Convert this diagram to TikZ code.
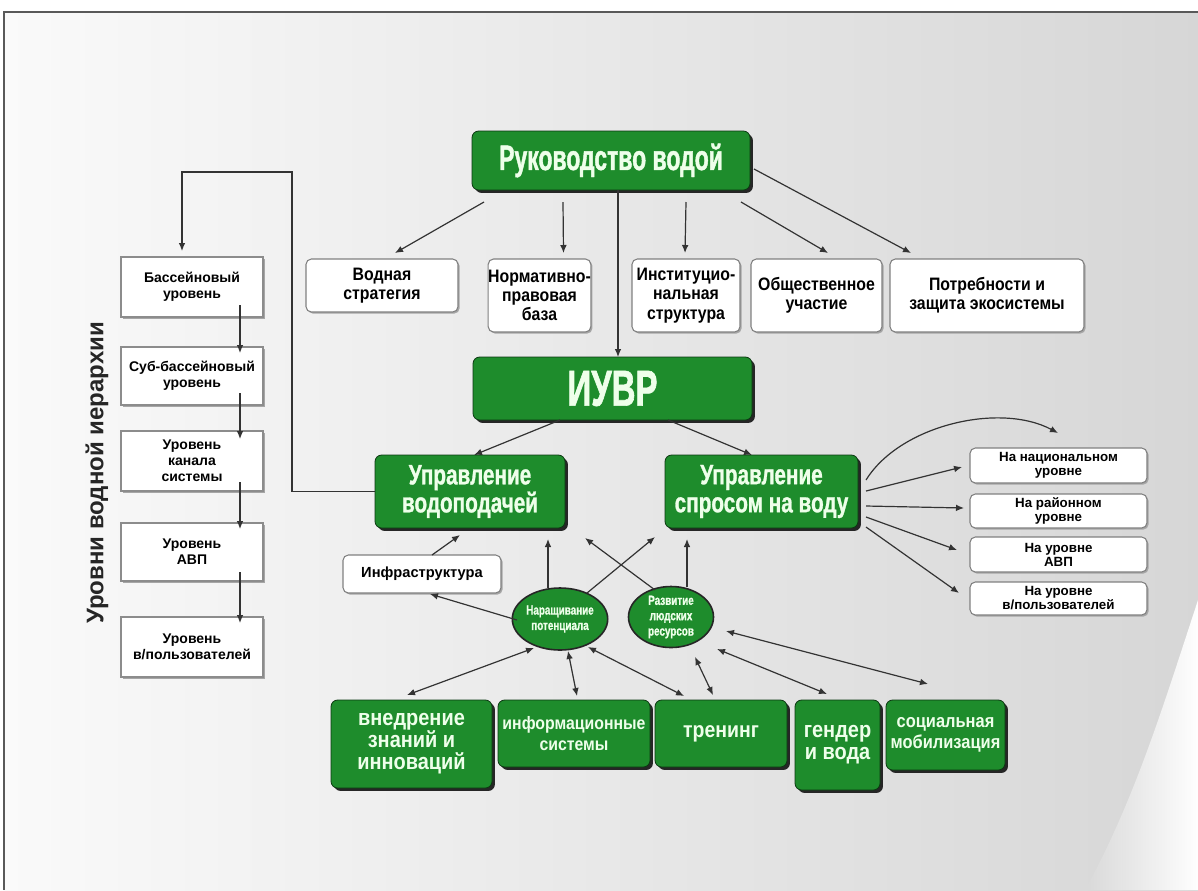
\documentclass[tikz,border=0pt]{standalone}
\usepackage{fontspec}
\setmainfont{Liberation Sans}
\newfontfamily\condA[FakeStretch=0.65,FakeBold=1.2]{Liberation Sans}
\newfontfamily\condB[FakeStretch=0.74,FakeBold=1]{Liberation Sans}
\newfontfamily\narr[FakeStretch=0.88]{Liberation Sans}
\usetikzlibrary{arrows.meta,shadows,shapes.geometric,fadings}
\definecolor{gr}{HTML}{1E8C2C}
\definecolor{txw}{HTML}{EEFFEA}
\definecolor{ln}{HTML}{333333}
\tikzfading[name=glowfade, left color=transparent!100, right color=transparent!0]
\newcommand\boxat[7]{\node[#2, minimum width={(#5-#3)*0.75pt}, minimum height={(#6-#4)*0.75pt}] (#1) at ({(#3+#5)/2},{(#4+#6)/2}) {#7};}
\newcommand\cn[7]{\draw[#1] ([shift={(#3,#4)}]#2.center) -- ([shift={(#6,#7)}]#5.center);}
\begin{document}
\begin{tikzpicture}[x=0.75pt,y=-0.75pt,
  gbox/.style={draw=black!60!gr, line width=0.6pt, fill=gr, rounded corners=5pt, text=txw, align=center, inner sep=0pt,
    drop shadow={shadow xshift=2.2pt,shadow yshift=-2.2pt,fill=black!85,opacity=1}},
  wbox/.style={draw=black!50, line width=0.8pt, fill=white, rounded corners=4pt, align=center, inner sep=0pt, text=black,
    drop shadow={shadow xshift=1.2pt,shadow yshift=-1.2pt,fill=black!35,opacity=1}},
  lbox/.style={wbox, sharp corners, draw=black!45, line width=1.3pt},
  ell/.style={ellipse, draw=black!85, line width=1.2pt, fill=gr, text=txw, align=center, inner sep=0pt},
  arr/.style={draw=ln, line width=0.9pt, -{Latex[length=6pt,width=5pt]}},
  darr/.style={draw=ln, line width=0.9pt, {Latex[length=6pt,width=5pt]}-{Latex[length=6pt,width=5pt]}}]
\useasboundingbox (0,0) rectangle (1198,890);
\fill[white] (0,0) rectangle (1198,890);
\shade[left color=black!2, right color=black!16] (4,12) rectangle (1198,890);
\fill[white, path fading=glowfade, fit fading=true] (1198,600) .. controls (1165,700) and (1135,800) .. (1085,890) -- (1198,890) -- cycle;
\draw[black!65, line width=1.5pt] (4,890) -- (4,12) -- (1198,12);

% top
\boxat{ruk}{gbox,font=\condA\bfseries\fontsize{26.5}{28}\selectfont}{472}{131}{750}{190}{Руководство водой}
\boxat{vs}{wbox,font=\narr\bfseries\fontsize{13.5}{14.5}\selectfont}{306}{259}{458}{312}{Водная\\стратегия}
\boxat{npb}{wbox,font=\narr\bfseries\fontsize{13.5}{14.5}\selectfont}{489}{259}{590}{332}{Нормативно-\\правовая\\база}
\boxat{ins}{wbox,font=\narr\bfseries\fontsize{13.5}{14.5}\selectfont}{632}{259}{740}{332}{Институцио-\\нальная\\структура}
\boxat{obs}{wbox,font=\narr\bfseries\fontsize{13.5}{14.5}\selectfont}{751}{259}{882}{332}{Общественное\\участие}
\boxat{pot}{wbox,font=\narr\bfseries\fontsize{13.5}{14.5}\selectfont}{890}{259}{1084}{332}{Потребности и\\защита экосистемы}
\boxat{ivr}{gbox,font=\condA\bfseries\fontsize{38}{40}\selectfont}{473}{357}{752}{420}{ИУВР}
\boxat{uv}{gbox,font=\condB\bfseries\fontsize{21}{21}\selectfont}{375}{455}{565}{528}{Управление\\водоподачей}
\boxat{us}{gbox,font=\condB\bfseries\fontsize{21}{21}\selectfont}{665}{455}{858}{528}{Управление\\спросом на воду}

% left column
\boxat{l1}{lbox,font=\bfseries\fontsize{10.5}{12}\selectfont}{121}{257}{263}{317}{Бассейновый\\уровень}
\boxat{l2}{lbox,font=\bfseries\fontsize{10.5}{12}\selectfont}{121}{347}{263}{405}{Суб-бассейновый\\уровень}
\boxat{l3}{lbox,font=\bfseries\fontsize{10.5}{12}\selectfont}{121}{431}{263}{491}{Уровень\\канала\\системы}
\boxat{l4}{lbox,font=\bfseries\fontsize{10.5}{12}\selectfont}{121}{523}{263}{581}{Уровень\\АВП}
\boxat{l5}{lbox,font=\bfseries\fontsize{10.5}{12}\selectfont}{121}{617}{263}{677}{Уровень\\в/пользователей}
\node[rotate=90, font=\bfseries\fontsize{18}{20}\selectfont, text=black!85] (vl) at (97,473) {Уровни водной иерархии};

% right column
\boxat{r1}{wbox,font=\bfseries\fontsize{10}{10.5}\selectfont}{970}{448}{1147}{483}{На национальном\\уровне}
\boxat{r2}{wbox,font=\bfseries\fontsize{10}{10.5}\selectfont}{970}{494}{1147}{528}{На районном\\уровне}
\boxat{r3}{wbox,font=\bfseries\fontsize{10}{10.5}\selectfont}{970}{537}{1147}{572}{На уровне\\АВП}
\boxat{r4}{wbox,font=\bfseries\fontsize{10}{10.5}\selectfont}{970}{582}{1147}{615}{На уровне\\в/пользователей}

% middle
\boxat{inf}{wbox,font=\bfseries\fontsize{11}{13}\selectfont}{343}{555}{501}{593}{Инфраструктура}
\node[ell, minimum width=86*0.75pt, minimum height=62*0.75pt, font=\condB\bfseries\fontsize{10}{11.5}\selectfont] (e1) at (560,619) {Наращивание\\потенциала};
\node[ell, minimum width=85*0.75pt, minimum height=61*0.75pt, font=\condB\bfseries\fontsize{10}{11.5}\selectfont] (e2) at (671,617) {Развитие\\людских\\ресурсов};

% bottom
\boxat{b1}{gbox,font=\narr\bfseries\fontsize{17}{16.5}\selectfont}{331}{700}{492}{788}{внедрение\\знаний и\\инноваций}
\boxat{b2}{gbox,font=\narr\bfseries\fontsize{13.5}{16}\selectfont}{498}{700}{650}{767}{информационные\\системы}
\boxat{b3}{gbox,font=\narr\bfseries\fontsize{16.6}{18}\selectfont}{655}{700}{787}{767}{тренинг}
\boxat{b4}{gbox,font=\narr\bfseries\fontsize{17}{16.5}\selectfont}{795}{700}{880}{790}{гендер\\и вода}
\boxat{b5}{gbox,font=\narr\bfseries\fontsize{14}{16}\selectfont}{886}{700}{1005}{770}{социальная\\мобилизация}

% connectors from Руководство
\cn{arr}{ruk}{-127}{41.5}{vs}{13}{-32.5}
\cn{arr}{ruk}{-48}{41.5}{npb}{24}{-42.5}
\cn{arr}{ruk}{75}{41.5}{ins}{-1}{-42.5}
\cn{arr}{ruk}{130}{41.5}{obs}{11.5}{-42.5}
\cn{arr}{ruk}{143}{8.5}{pot}{-76}{-42.5}
\cn{arr}{ruk}{7}{29.5}{ivr}{5.5}{-31.5}
\cn{arr}{ivr}{-52.5}{31.5}{uv}{4}{-36.5}
\cn{arr}{ivr}{55.5}{31.5}{us}{-9.5}{-36.5}

% loop to left column
\draw[arr] (uv.west) -- (292,491.5) -- (292,172) -- (182,172) -- ([shift={(-10,-36)}]l1.center);
\cn{arr}{l1}{48}{18}{l2}{48}{-23}
\cn{arr}{l2}{48}{17}{l3}{48}{-22}
\cn{arr}{l3}{48}{21}{l4}{48}{-23}
\cn{arr}{l4}{48}{20}{l5}{48}{-24}

% right fan
\draw[arr] ([shift={(104.5,-11.5)}]us.center) .. controls (900,425) and (1000,402) .. ([shift={(-0.5,-32.5)}]r1.center);
\cn{arr}{us}{104.5}{-0.5}{r1}{-96.5}{1.5}
\cn{arr}{us}{104.5}{14.5}{r2}{-94.5}{-3}
\cn{arr}{us}{104.5}{25.5}{r3}{-101.5}{-4.5}
\cn{arr}{us}{104.5}{35.5}{r4}{-99.5}{-5.5}

% middle connectors
\cn{arr}{inf}{10}{-19}{uv}{-10}{43.5}
\cn{arr}{e1}{-43}{1}{inf}{8}{20}
\cn{arr}{e1}{-12}{-31}{uv}{78}{47.5}
\cn{arr}{e1}{27}{-26}{us}{-106.5}{45.5}
\cn{arr}{e2}{-16}{-27}{uv}{115}{46.5}
\cn{arr}{e2}{16}{-30}{us}{-74.5}{47.5}

% bottom double arrows
\cn{darr}{e1}{-26}{29}{b1}{-4.5}{-49}
\cn{darr}{e1}{8}{32}{b2}{3}{-37.5}
\cn{darr}{e1}{28}{28}{b3}{-37}{-37.5}
\cn{darr}{e2}{24}{40}{b3}{-8}{-38.5}
\cn{darr}{e2}{46}{32}{b4}{-10.5}{-51}
\cn{darr}{e2}{55}{14}{b5}{-17.5}{-51}
\end{tikzpicture}
\end{document}
